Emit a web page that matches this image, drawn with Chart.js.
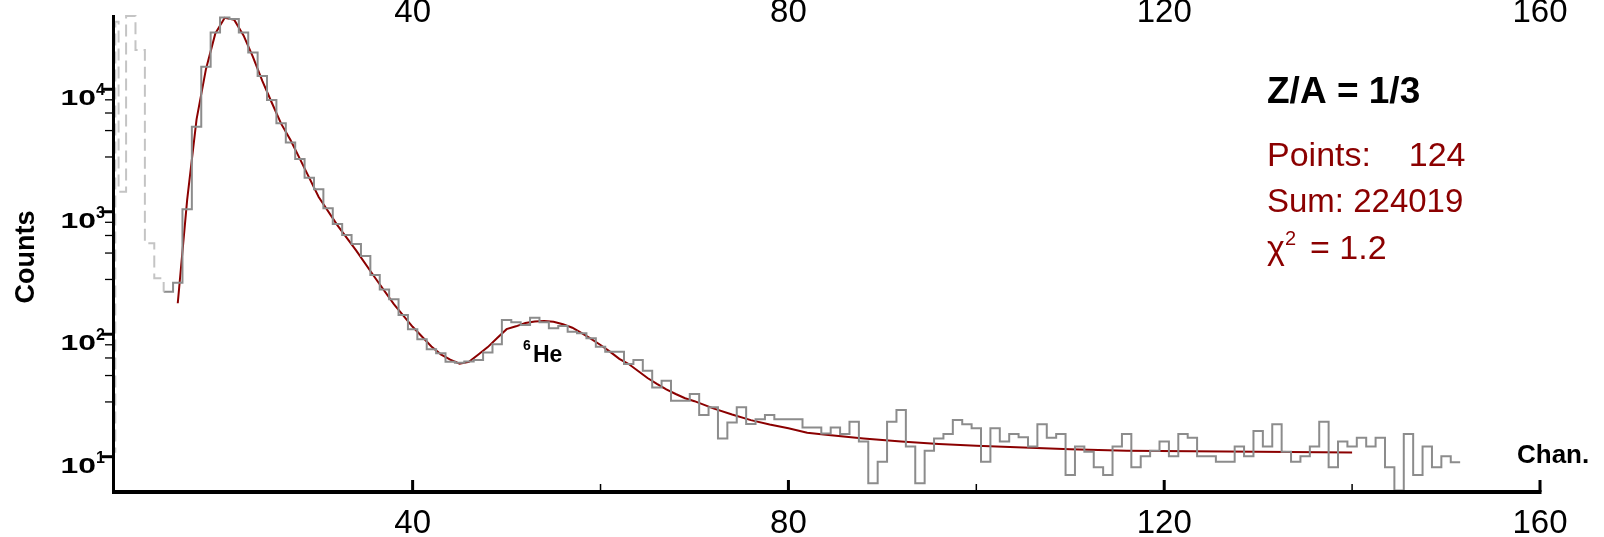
<!DOCTYPE html>
<html>
<head>
<meta charset="utf-8">
<script src="https://cdn.jsdelivr.net/npm/chart.js@4.4.1/dist/chart.umd.min.js"></script>
<style>
html, body { margin: 0; padding: 0; background: #fff; }
#wrap { width: 1604px; height: 537px; }
</style>
</head>
<body>
<div id="wrap"><canvas id="spectrum"></canvas></div>
<script>
// Axis ranges
const xMin = 8, xMax = 160;
const yMin = 5.15, yMax = 40400;
const xTickLabels = [40, 80, 120, 160];
const xMinorTicks = [60, 100, 140];
const yDecades = [1, 2, 3, 4];
const yMinorFactors = [0.82, 0.64, 0.46, 0.28];

// Excluded low channels (dashed): bin edges and counts
const dashedEdges = [7.5, 8.35, 8.7, 9.5, 10.5, 11.5, 12.5, 13.5];
const dashedCounts = [11, 35600, 1455, 39600, 20900, 552, 286];

// Measured spectrum, one value per channel starting at histStart
const histStart = 14;
const histCounts = [
    222, 263, 1047, 4940, 15270, 29100, 38600, 37400, 29100, 20000,
    12830, 8170, 5270, 3680, 2690, 1897, 1524, 1067, 795, 646,
    545, 435, 304, 232, 193, 143.6, 109.7, 90.8, 75.3, 69.8,
    59.7, 58.6, 60, 61.5, 71, 83, 130.6, 125, 118.8, 136.5,
    125, 111.7, 116.7, 104.8, 101.7, 92.7, 79.1, 72, 72, 57.1,
    61.5, 50.4, 36.8, 41.7, 28.6, 28.6, 32.5, 21.9, 25.3, 14.1,
    19.0, 25.3, 18.5, 20.2, 21.9, 20.2, 20.2, 20.2, 17.3, 17.3,
    15.5, 17.3, 15.3, 19.3, 13.3, 6.07, 9.1, 19.3, 24.1, 12.1,
    6.07, 11.2, 14.1, 15.3, 19.9, 18.4, 17.1, 9.1, 17.1, 13.3,
    15.3, 14.4, 12.1, 18.4, 14.3, 15.3, 7.1, 12.1, 11.0, 8.2,
    7.1, 12.1, 15.3, 8.2, 10.1, 11.2, 13.3, 10.1, 15.3, 14.3,
    10.1, 10.1, 9.1, 9.1, 12.1, 10.1, 16.2, 12.1, 18.4, 11.0,
    9.1, 10.1, 12.1, 19.3, 8.2, 13.3, 12.1, 14.3, 12.1, 14.3,
    8.2, 5.3, 15.3, 7.1, 12.1, 8.2, 10.1, 9.0
];

// Fit curve
const fitChannels = [15, 16, 17, 18, 19, 20, 21, 22, 23, 24, 25, 26, 27, 28,
    30, 32, 34, 36, 38, 40, 42,
    43, 44, 45, 46, 47, 48, 49, 50, 51, 52, 53, 54, 55, 56, 57, 58, 59, 60,
    61, 62, 63, 64, 65, 66, 67, 68, 69, 70,
    72, 74, 76, 78, 80, 82, 84,
    88, 92, 96, 100, 105, 110, 116, 123, 130, 140];
const fitValues = [179, 1250, 5680, 14600, 28600, 38300, 37000, 27500, 18400, 11700, 7800, 5240, 3850, 2700,
    1320, 775, 481, 289, 176, 115, 79.4,
    68.5, 62, 57.5, 59.6, 68.4, 78.5, 93, 110, 116, 123.6, 127, 128, 126.5, 120.8, 113, 102, 91.6, 81.7,
    72.1, 63, 57.1, 50.1, 43.9, 39.3, 35.4, 32.5, 30, 28.4,
    24.8, 22.1, 19.9, 18.3, 17.1, 15.7, 15.1,
    14.1, 13.3, 12.7, 12.3, 11.9, 11.5, 11.2, 11.1, 11.0, 10.8];

const fitColor = '#8b0000';
const font = '"Liberation Sans", Arial, sans-serif';

// Step points from bin edges: each point is a left edge, last one closes the final bin
function stepPointsFromEdges(edges, counts, endValue) {
    const pts = counts.map((v, i) => ({ x: edges[i], y: v }));
    pts.push({ x: edges[counts.length], y: endValue !== undefined ? endValue : counts[counts.length - 1] });
    return pts;
}

function stepPoints(start, counts) {
    const edges = counts.map((v, i) => start + i - 0.5);
    edges.push(start + counts.length - 0.5);
    return stepPointsFromEdges(edges, counts);
}

const dashedPoints = stepPointsFromEdges(dashedEdges, dashedCounts, histCounts[0]);
const histPoints = stepPoints(histStart, histCounts);
const fitPoints = fitChannels.map((c, i) => ({ x: c, y: fitValues[i] }));

// Axes, ticks and text drawn by hand so they sit where the original has them
const axesPlugin = {
    id: 'axes',
    afterDraw(chart) {
        const ctx = chart.ctx;
        const area = chart.chartArea;
        const xs = chart.scales.x, ys = chart.scales.y;
        ctx.save();
        ctx.strokeStyle = '#000';
        ctx.fillStyle = '#000';

        // axis lines
        ctx.lineWidth = 3;
        ctx.beginPath();
        ctx.moveTo(area.left + 1.5, area.top);
        ctx.lineTo(area.left + 1.5, area.bottom);
        ctx.stroke();
        ctx.lineWidth = 4;
        ctx.beginPath();
        ctx.moveTo(area.left, area.bottom);
        ctx.lineTo(xs.getPixelForValue(xMax) + 1.5, area.bottom);
        ctx.stroke();

        // x ticks
        xTickLabels.forEach(v => {
            const px = xs.getPixelForValue(v);
            ctx.lineWidth = 3;
            ctx.beginPath();
            ctx.moveTo(px, area.bottom);
            ctx.lineTo(px, area.bottom - 12);
            ctx.stroke();
        });
        xMinorTicks.forEach(v => {
            const px = xs.getPixelForValue(v);
            ctx.lineWidth = 1.5;
            ctx.beginPath();
            ctx.moveTo(px, area.bottom);
            ctx.lineTo(px, area.bottom - 8);
            ctx.stroke();
        });

        // x labels, bottom and top
        ctx.font = '33px ' + font;
        ctx.textAlign = 'center';
        ctx.textBaseline = 'alphabetic';
        xTickLabels.forEach(v => {
            const px = xs.getPixelForValue(v);
            ctx.fillText(String(v), px, 533);
            ctx.fillText(String(v), px, 22);
        });

        // y ticks
        yDecades.forEach(d => {
            const py = ys.getPixelForValue(Math.pow(10, d));
            ctx.lineWidth = 3;
            ctx.beginPath();
            ctx.moveTo(area.left, py);
            ctx.lineTo(area.left - 10, py);
            ctx.stroke();
            if (d >= 2) {
                yMinorFactors.forEach(f => {
                    const pm = ys.getPixelForValue(f * Math.pow(10, d));
                    ctx.lineWidth = 1.3;
                    ctx.beginPath();
                    ctx.moveTo(area.left, pm);
                    ctx.lineTo(area.left - 7, pm);
                    ctx.stroke();
                });
            }
            // label 10^d
            ctx.save();
            ctx.translate(96, py + 16);
            ctx.scale(1.45, 1);
            ctx.font = 'bold 22px ' + font;
            ctx.textAlign = 'right';
            ctx.fillText('10', 0, 0);
            ctx.restore();
            ctx.font = 'bold 16px ' + font;
            ctx.textAlign = 'left';
            ctx.fillText(String(d), 96, py + 6);
        });

        // axis titles
        ctx.save();
        ctx.translate(34, 257);
        ctx.rotate(-Math.PI / 2);
        ctx.font = 'bold 27px ' + font;
        ctx.textAlign = 'center';
        ctx.fillText('Counts', 0, 0);
        ctx.restore();

        ctx.font = 'bold 26px ' + font;
        ctx.textAlign = 'left';
        ctx.fillText('Chan.', 1517, 463);

        // peak label
        ctx.font = 'bold 14px ' + font;
        ctx.fillText('6', 523, 350);
        ctx.font = 'bold 23px ' + font;
        ctx.fillText('He', 533, 362);

        // fit info
        ctx.font = 'bold 37px ' + font;
        ctx.fillText('Z/A = 1/3', 1267, 103);
        ctx.fillStyle = fitColor;
        ctx.font = '34px ' + font;
        ctx.fillText('Points:    124', 1267, 166);
        ctx.font = '33px ' + font;
        ctx.fillText('Sum: 224019', 1267, 212);
        ctx.font = '34px ' + font;
        ctx.fillText('\u03c7', 1267, 259);
        ctx.font = '20px ' + font;
        ctx.fillText('2', 1285, 245);
        ctx.font = '34px ' + font;
        ctx.fillText('= 1.2', 1310, 259);

        ctx.restore();
    }
};

new Chart(document.getElementById('spectrum'), {
    type: 'line',
    data: {
        datasets: [
            {
                data: dashedPoints,
                borderColor: '#c4c4c4',
                borderWidth: 2,
                borderDash: [12, 6],
                stepped: 'before',
                pointRadius: 0,
                fill: false,
                clip: { left: 0, top: false, right: 0, bottom: 0 }
            },
            {
                data: histPoints,
                borderColor: '#8c8c8c',
                borderWidth: 2,
                stepped: 'before',
                pointRadius: 0,
                fill: false
            },
            {
                data: fitPoints,
                borderColor: fitColor,
                borderWidth: 2,
                tension: 0,
                pointRadius: 0,
                fill: false
            }
        ]
    },
    options: {
        responsive: true,
        maintainAspectRatio: false,
        animation: false,
        devicePixelRatio: 1,
        layout: {
            padding: { left: 112, right: 64, top: 15, bottom: 45 }
        },
        plugins: {
            legend: { display: false },
            tooltip: { enabled: false }
        },
        scales: {
            x: { type: 'linear', min: xMin, max: xMax, display: false },
            y: { type: 'logarithmic', min: yMin, max: yMax, display: false }
        }
    },
    plugins: [axesPlugin]
});
</script>
</body>
</html>
